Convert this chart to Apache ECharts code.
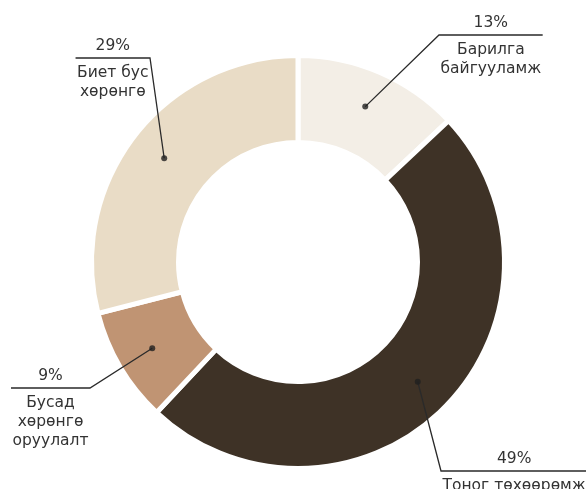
<!DOCTYPE html>
<html>
<head>
<meta charset="utf-8">
<script src="https://cdn.jsdelivr.net/npm/echarts@6/dist/echarts.min.js"></script>
<style>html,body{margin:0;padding:0;background:#fff}#c{width:586px;height:489px}</style>
</head>
<body>
<div id="c"></div>
<script>
// ---- data ----
const categories = ['Барилга\nбайгууламж', 'Тоног төхөөрөмж', 'Бусад\nхөрөнгө\nоруулалт', 'Биет бус\nхөрөнгө'];
const values = [13, 49, 9, 29];
const colors = ['#F3EEE6', '#3E3226', '#C09473', '#E9DCC6'];

// ---- layout / style ----
const CENTER = [298, 262];
const R_IN = 119.5, R_OUT = 206.5;
const DOT_R = 0.82;                 // dot position as share of outer radius
const labelElbows = [[439, 35], [441, 471], [90, 388], [150, 58]];
const FONT = '"DejaVu Sans", sans-serif';
const FS = 15.5;
const TEXT_COLOR = '#333333';
const LINE_COLOR = '#2a2a2a';
const P_LH = 18, GAP_ABOVE = 3, GAP_BELOW = 5, N_LH = 19;

const total = values.reduce((a, b) => a + b, 0);
const mids = [];
let acc = 0;
values.forEach(v => { mids.push(acc + v / 2); acc += v; });

const cv = document.createElement('canvas').getContext('2d');
cv.font = FS + 'px ' + FONT;
const widths = categories.map(c => Math.max(...c.split('\n').map(s => cv.measureText(s).width)) + 3);

const chart = echarts.init(document.getElementById('c'), null, {renderer: 'canvas'});

const labelData = values.map((v, i) => ({
  value: v,
  name: categories[i],
  label: {
    formatter: '{p|' + v + '%}\n{g|}\n' + categories[i].split('\n').map(s => '{n|' + s + '}').join('\n'),
    rich: {
      p: {fontSize: FS, fontFamily: FONT, color: TEXT_COLOR, lineHeight: P_LH, align: 'center'},
      g: {width: widths[i], height: GAP_ABOVE + GAP_BELOW, lineHeight: GAP_ABOVE + GAP_BELOW},
      n: {fontSize: FS, fontFamily: FONT, color: TEXT_COLOR, lineHeight: N_LH, align: 'center'}
    }
  }
}));

chart.setOption({
  animation: false,
  polar: {center: CENTER, radius: [0, R_OUT]},
  angleAxis: {type: 'value', min: 0, max: total, startAngle: 90, clockwise: true, show: false},
  radiusAxis: {type: 'value', min: 0, max: 1, show: false},
  series: [
    {
      type: 'pie',
      center: CENTER,
      radius: [R_IN, R_OUT],
      startAngle: 90,
      clockwise: true,
      silent: true,
      label: {show: false},
      labelLine: {show: false},
      itemStyle: {borderColor: '#ffffff', borderWidth: 5},
      emphasis: {disabled: true},
      data: values.map((v, i) => ({value: v, name: categories[i], itemStyle: {color: colors[i]}}))
    },
    {
      // invisible pie that carries the labels and leader lines
      type: 'pie',
      center: CENTER,
      radius: [0, R_OUT * DOT_R],
      startAngle: 90,
      clockwise: true,
      silent: true,
      z: 4,
      avoidLabelOverlap: false,
      itemStyle: {color: 'rgba(0,0,0,0)', borderWidth: 0},
      emphasis: {disabled: true},
      label: {show: true, position: 'outside'},
      labelLine: {show: true, length: 10, length2: 10, lineStyle: {color: LINE_COLOR, width: 1.3}},
      labelLayout: function (params) {
        const i = params.dataIndex;
        const ex = labelElbows[i][0], ey = labelElbows[i][1];
        const side = ex > CENTER[0] ? 1 : -1;
        const start = params.labelLinePoints[0];
        return {
          x: ex,
          y: ey - P_LH - GAP_ABOVE,
          align: side > 0 ? 'left' : 'right',
          verticalAlign: 'top',
          labelLinePoints: [start, [ex, ey], [ex + side * widths[i], ey]]
        };
      },
      data: labelData
    },
    {
      type: 'scatter',
      coordinateSystem: 'polar',
      symbol: 'circle',
      symbolSize: 6,
      itemStyle: {color: '#1f1f1f'},
      silent: true,
      z: 5,
      data: values.map((v, i) => [DOT_R, mids[i]])
    }
  ]
});
</script>
</body>
</html>
